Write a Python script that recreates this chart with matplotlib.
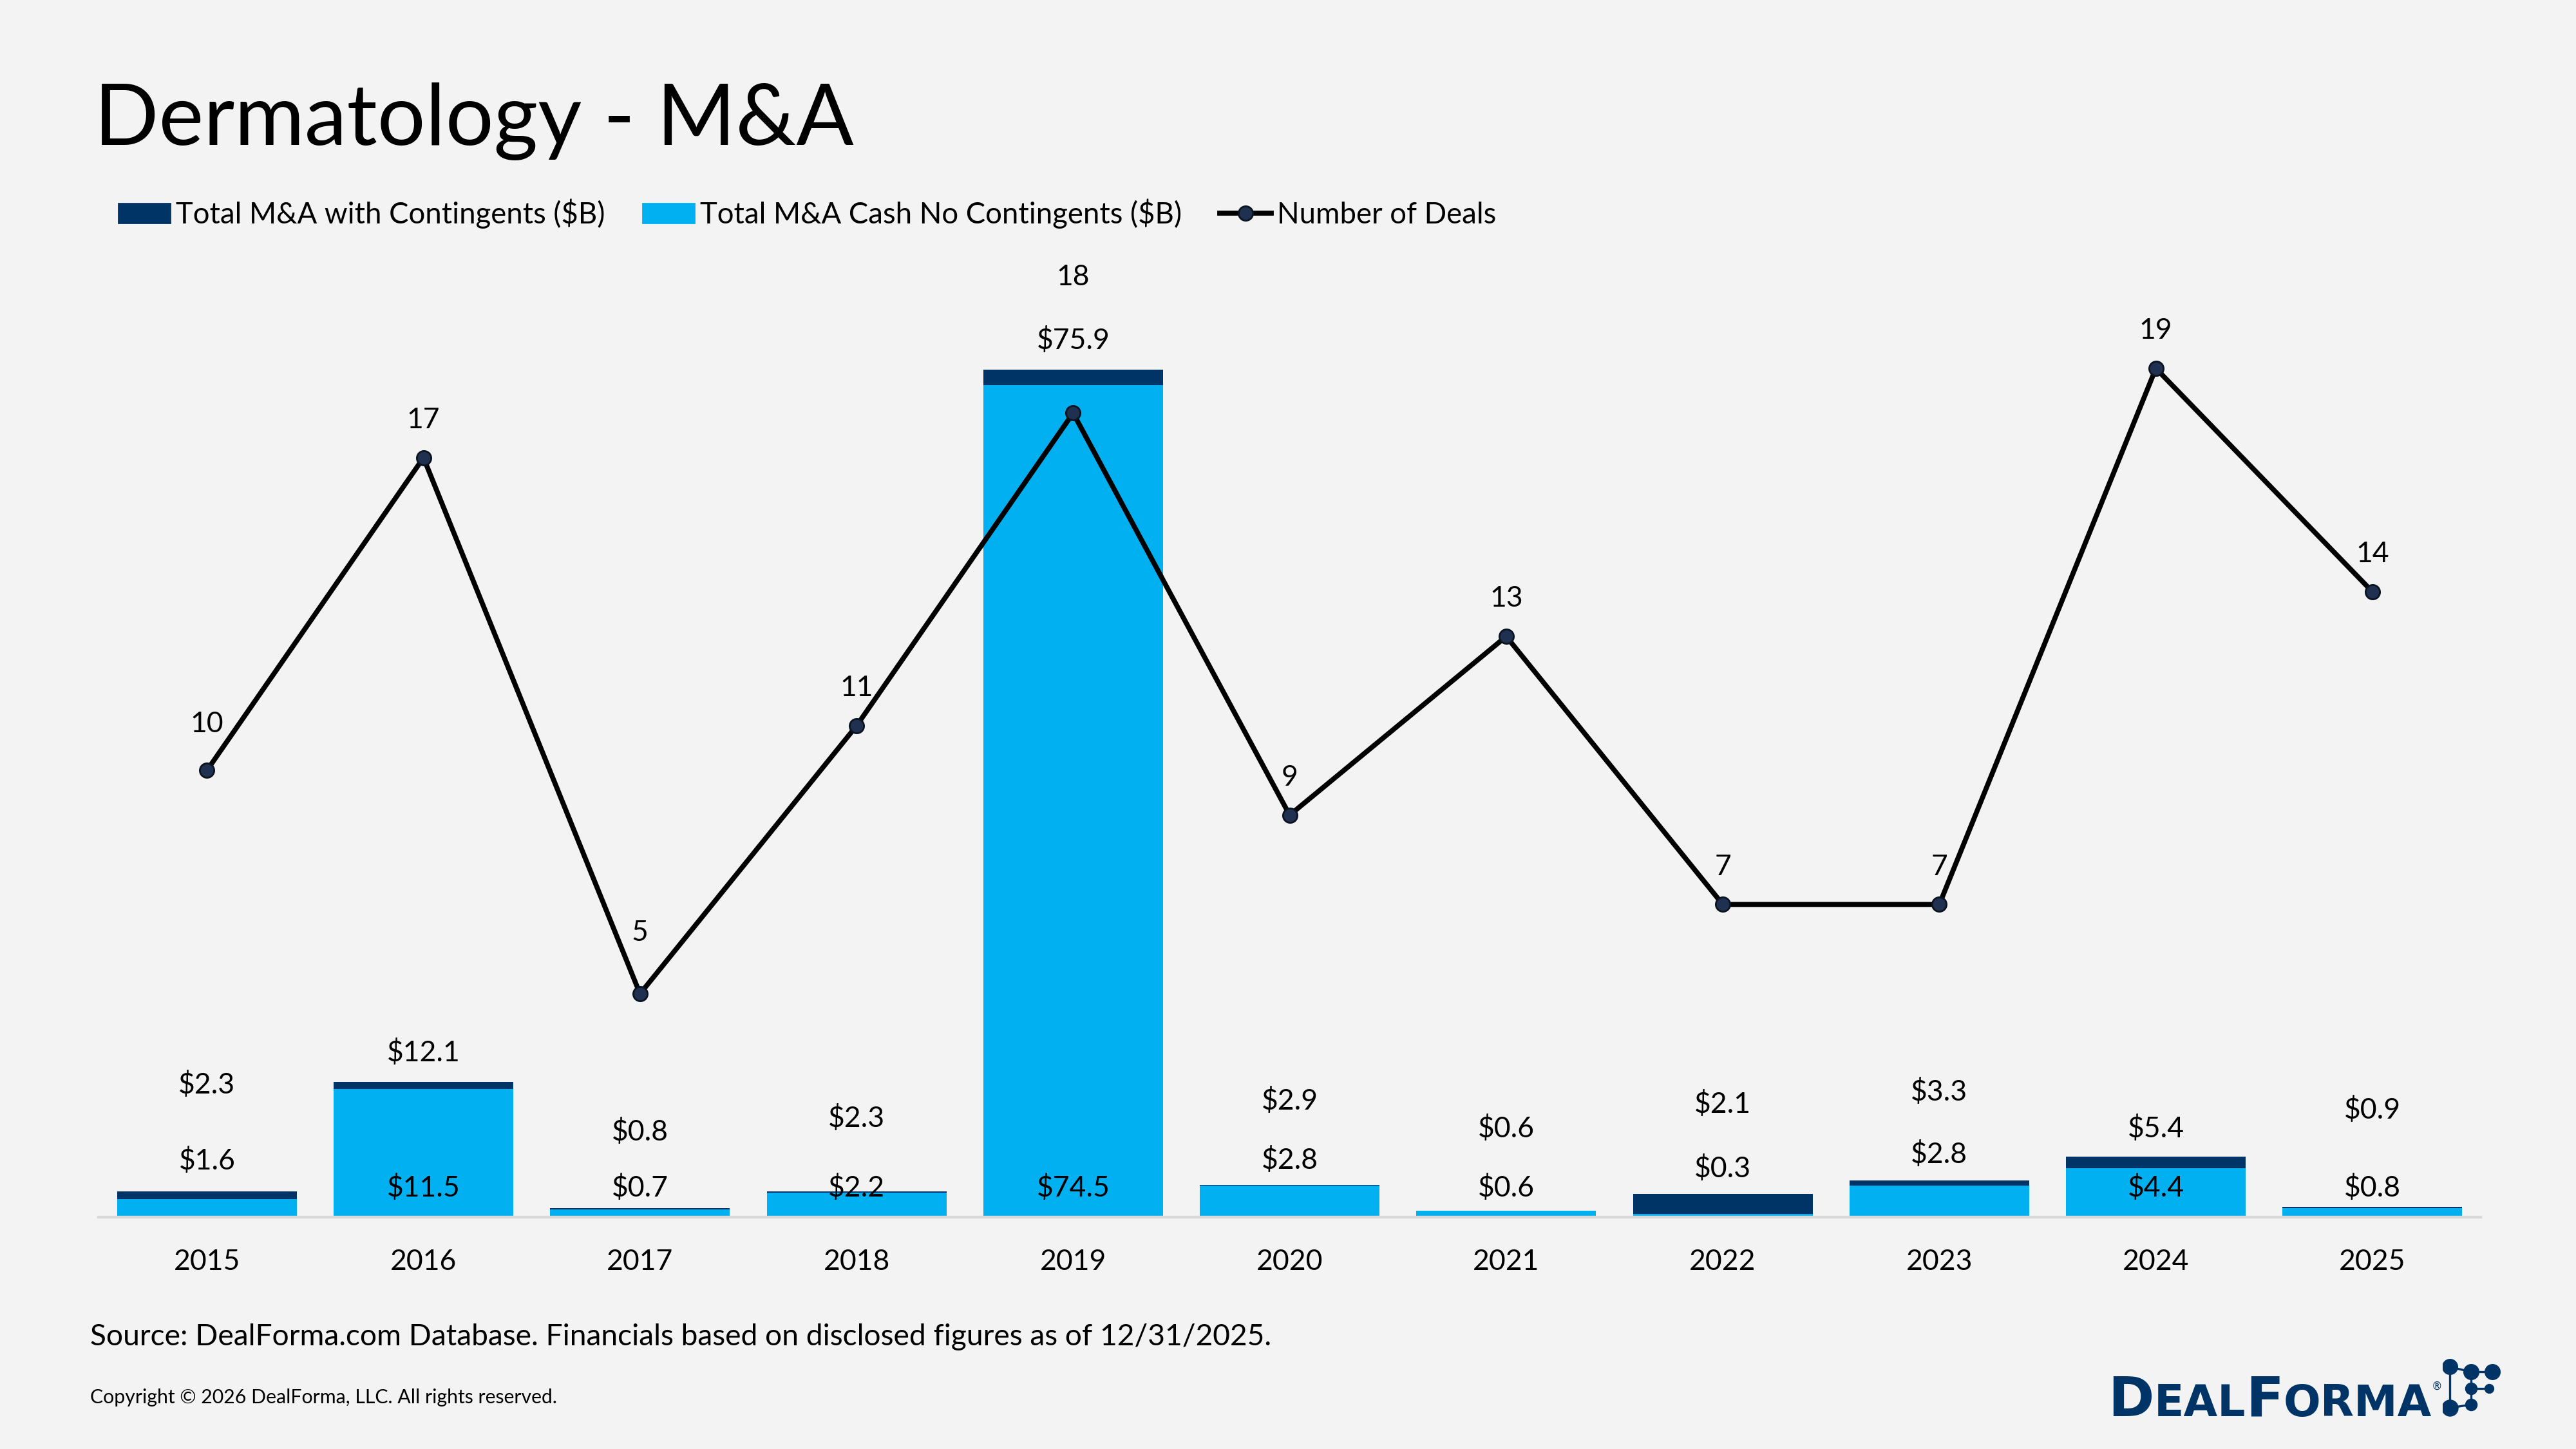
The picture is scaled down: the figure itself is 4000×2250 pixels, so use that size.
import matplotlib
matplotlib.use("Agg")
import matplotlib.pyplot as plt
from matplotlib.lines import Line2D
from matplotlib.patches import Patch

# data
years = ['2015', '2016', '2017', '2018', '2019', '2020', '2021', '2022', '2023', '2024', '2025']
total_with_contingents = [2.3, 12.1, 0.8, 2.3, 75.9, 2.9, 0.6, 2.1, 3.3, 5.4, 0.9]
cash_no_contingents = [1.6, 11.5, 0.7, 2.2, 74.5, 2.8, 0.6, 0.3, 2.8, 4.4, 0.8]
number_of_deals = [10, 17, 5, 11, 18, 9, 13, 7, 7, 19, 14]

# label placement, hand tuned to the reference ($B on left axis / points above marker)
total_label_y = [11.8, 14.7, 7.6, 8.8, 78.5, 10.4, 7.9, 10.1, 11.2, 7.9, 9.6]
cash_label_y = [5.0, 2.6, 2.6, 2.6, 2.6, 5.1, 2.6, 4.3, 5.6, 2.6, 2.6]
deal_label_offset = [26, 21, 34, 21, 76, 21, 21, 21, 21, 21, 21]

DARK = '#003366'
LIGHT = '#00B0F0'
BG = '#F3F3F3'

plt.rcParams['font.family'] = ['Lato', 'DejaVu Sans']

fig = plt.figure(figsize=(20, 11.25), dpi=200, facecolor=BG)
ax = fig.add_axes([0.0383, 0.160, 0.9247, 0.6166])
ax.set_facecolor(BG)

x = list(range(len(years)))

# bars: total behind, cash in front (overlapped)
ax.bar(x, total_with_contingents, width=0.83, color=DARK, zorder=2)
ax.bar(x, cash_no_contingents, width=0.83, color=LIGHT, zorder=3)

ax.set_xlim(-0.5, len(years) - 0.5)
ax.set_ylim(0, 80)
ax.set_xticks(x)
ax.set_xticklabels(years, fontsize=16)
ax.tick_params(axis='x', length=0, pad=17.5)
ax.set_yticks([])
for s in ['top', 'left', 'right']:
    ax.spines[s].set_visible(False)
ax.spines['bottom'].set_color('#D9D9D9')
ax.spines['bottom'].set_linewidth(1.6)
ax.spines['bottom'].set_zorder(4)

for i in x:
    ax.text(i, total_label_y[i], f"${total_with_contingents[i]:.1f}", ha='center', va='center',
            fontsize=16, zorder=6)
    ax.text(i, cash_label_y[i], f"${cash_no_contingents[i]:.1f}", ha='center', va='center',
            fontsize=16, zorder=6)

# deals line on secondary axis
ax2 = ax.twinx()
ax2.set_ylim(0, 20)
ax2.set_yticks([])
for s in ['top', 'left', 'right', 'bottom']:
    ax2.spines[s].set_visible(False)
ax2.plot(x, number_of_deals, color='black', lw=2.8, marker='o', markersize=8,
         markerfacecolor='#1F3050', markeredgecolor='#0A1420', zorder=5)
for i in x:
    ax2.annotate(str(number_of_deals[i]), (i, number_of_deals[i]),
                 xytext=(0, deal_label_offset[i]), textcoords='offset points',
                 ha='center', va='center', fontsize=16)

# title
fig.text(0.0364, 0.900, 'Dermatology - M&A', fontsize=47.5, ha='left', va='baseline')

# legend
handles = [Patch(color=DARK, label='Total M&A with Contingents ($B)'),
           Patch(color=LIGHT, label='Total M&A Cash No Contingents ($B)'),
           Line2D([0], [0], color='black', lw=2.8, marker='o', markersize=8,
                  markerfacecolor='#1F3050', markeredgecolor='#0A1420', label='Number of Deals')]
fig.legend(handles=handles, loc='center left', bbox_to_anchor=(0.046, 0.8526), ncol=3,
           frameon=False, fontsize=16.4, handlelength=1.75, handleheight=0.65,
           handletextpad=0.2, columnspacing=1.3, borderaxespad=0, borderpad=0)

# source and copyright
fig.text(0.0351, 0.0714, 'Source: DealForma.com Database. Financials based on disclosed figures as of 12/31/2025.',
         fontsize=16.6, ha='left', va='baseline')
fig.text(0.0351, 0.0317, 'Copyright \u00a9 2026 DealForma, LLC. All rights reserved.',
         fontsize=10.9, ha='left', va='baseline')

# logo text in small caps style
renderer = fig.canvas.get_renderer()
lx = 0.8183
ly = 0.0227
for chunk, size in [('D', 31), ('EAL', 24.5), ('F', 31), ('ORMA', 24.5)]:
    t = fig.text(lx, ly, chunk, fontsize=size, fontweight='bold', color=DARK,
                 family='DejaVu Sans', ha='left', va='baseline')
    bb = t.get_window_extent(renderer=renderer)
    lx += bb.width / fig.bbox.width
fig.text(lx, 0.041, '\u00ae', fontsize=6, color=DARK, family='DejaVu Sans', ha='left', va='baseline')

# logo icon (coords in reference pixel grid)
lax = fig.add_axes([1487 / 1568, 1 - 863 / 882, 37 / 1568, 36 / 882])
lax.set_xlim(1487, 1524)
lax.set_ylim(863, 827)
lax.axis('off')
nodes = {'tl': (1491, 832), 'tm': (1504, 835), 'tr': (1517, 835), 'mm': (1504, 845),
         'mr': (1515, 845), 'bl': (1491, 857), 'bm': (1504, 855)}
edges = [('tl', 'tm'), ('tm', 'tr'), ('tl', 'bl'), ('tm', 'mm'), ('mm', 'bm'), ('mm', 'mr'), ('bl', 'bm')]
for a, b in edges:
    lax.plot([nodes[a][0], nodes[b][0]], [nodes[a][1], nodes[b][1]], color=DARK, lw=1.2)
sizes = {'tl': 8, 'tm': 8, 'tr': 8, 'mm': 6, 'mr': 4.5, 'bl': 8.5, 'bm': 6}
for k, (nx, ny) in nodes.items():
    lax.plot(nx, ny, 'o', color=DARK, markersize=sizes[k])

fig.savefig('out.png', dpi=200, facecolor=BG)
